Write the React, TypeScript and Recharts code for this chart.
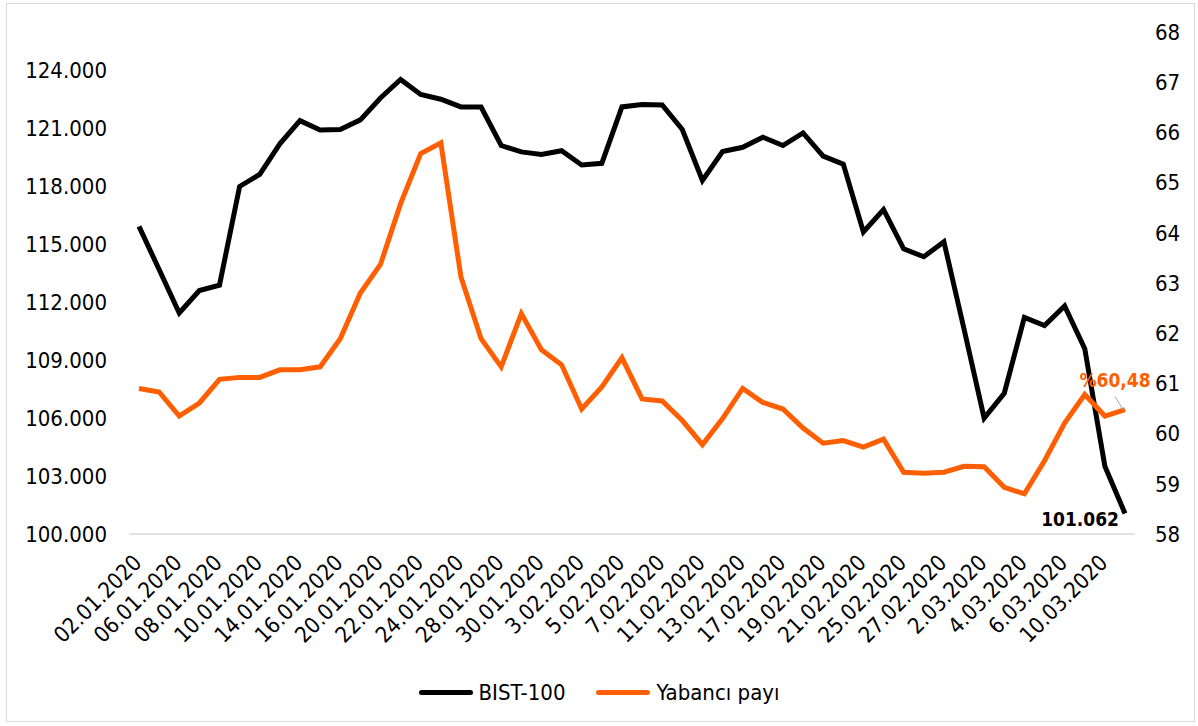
import React from 'react';
import { LineChart, Line, XAxis, YAxis, Legend, LabelList } from 'recharts';

const dates = [
  '02.01.2020', '03.01.2020', '06.01.2020', '07.01.2020', '08.01.2020', '09.01.2020', '10.01.2020',
  '13.01.2020', '14.01.2020', '15.01.2020', '16.01.2020', '17.01.2020', '20.01.2020', '21.01.2020',
  '22.01.2020', '23.01.2020', '24.01.2020', '27.01.2020', '28.01.2020', '29.01.2020', '30.01.2020',
  '31.01.2020', '3.02.2020', '4.02.2020', '5.02.2020', '6.02.2020', '7.02.2020', '10.02.2020',
  '11.02.2020', '12.02.2020', '13.02.2020', '14.02.2020', '17.02.2020', '18.02.2020', '19.02.2020',
  '20.02.2020', '21.02.2020', '24.02.2020', '25.02.2020', '26.02.2020', '27.02.2020', '28.02.2020',
  '2.03.2020', '3.03.2020', '4.03.2020', '5.03.2020', '6.03.2020', '9.03.2020', '10.03.2020', '11.03.2020',
];

const bist100 = [
  115930, 113700, 111450, 112610, 112890, 118000, 118630, 120210, 121410, 120920,
  120950, 121450, 122580, 123540, 122760, 122520, 122120, 122110, 120120, 119790,
  119660, 119850, 119110, 119200, 122120, 122240, 122220, 120950, 118310, 119810,
  120030, 120550, 120120, 120770, 119570, 119160, 115640, 116800, 114770, 114360,
  115140, 110620, 106000, 107290, 111220, 110800, 111810, 109600, 103510, 101062,
];

const yabanciPayi = [
  60.9, 60.83, 60.35, 60.61, 61.08, 61.12, 61.12, 61.27, 61.27, 61.33,
  61.89, 62.8, 63.37, 64.58, 65.58, 65.79, 63.12, 61.89, 61.33, 62.39,
  61.67, 61.37, 60.49, 60.93, 61.51, 60.69, 60.65, 60.26, 59.78, 60.3,
  60.9, 60.62, 60.49, 60.11, 59.81, 59.86, 59.73, 59.89, 59.23, 59.21,
  59.23, 59.35, 59.34, 58.93, 58.8, 59.46, 60.21, 60.78, 60.35, 60.48,
];

const leftTicks = [100000, 103000, 106000, 109000, 112000, 115000, 118000, 121000, 124000];
const rightTicks = [58, 59, 60, 61, 62, 63, 64, 65, 66, 67, 68];

const data = dates.map((d, i) => ({ date: d, bist: bist100[i], yabanci: yabanciPayi[i] }));

const FONT = '"DejaVu Sans Condensed", "DejaVu Sans", sans-serif';
const ORANGE = '#ff5f00';

const fmtThousands = (v: number) => {
  const k = Math.floor(v / 1000);
  const r = String(Math.round(v % 1000)).padStart(3, '0');
  return `${k}.${r}`;
};

const DateTick = (props: any) => {
  const { x, y, payload } = props;
  const tx = x + 4;
  const ty = y + 30;
  return (
    <text
      x={tx}
      y={ty}
      textAnchor="end"
      fontSize={22}
      fill="#000"
      fontFamily={FONT}
      transform={`rotate(-45, ${tx}, ${ty})`}
    >
      {payload.value}
    </text>
  );
};

const BistLabel = (props: any) => {
  const { x, y, index } = props;
  if (index !== data.length - 1) return null;
  return (
    <text x={x - 6} y={y + 13} textAnchor="end" fontSize={19} fontWeight="bold" fill="#000" fontFamily={FONT}>
      {fmtThousands(bist100[index])}
    </text>
  );
};

const YabanciLabel = (props: any) => {
  const { x, y, index } = props;
  if (index !== data.length - 1) return null;
  return (
    <g>
      <line x1={x - 10} y1={y - 13} x2={x - 2} y2={y} stroke="#a6a6a6" strokeWidth={1} />
      <text x={x - 10} y={y - 23} textAnchor="middle" fontSize={19} fontWeight="bold" fill={ORANGE} fontFamily={FONT}>
        {'%' + yabanciPayi[index].toFixed(2).replace('.', ',')}
      </text>
    </g>
  );
};

const LegendBox = () => (
  <div
    style={{
      display: 'flex',
      justifyContent: 'center',
      alignItems: 'center',
      height: 40,
      fontFamily: FONT,
      fontSize: 22,
      color: '#000',
    }}
  >
    <span style={{ display: 'inline-block', width: 54, height: 5, borderRadius: 3, background: '#000', marginRight: 6 }} />
    <span>BIST-100</span>
    <span style={{ display: 'inline-block', width: 54, height: 5, borderRadius: 3, background: ORANGE, marginLeft: 31, marginRight: 6 }} />
    <span>Yabancı payı</span>
  </div>
);

export default function App() {
  return (
    <div style={{ position: 'absolute', left: 0, top: 0, width: 1198, height: 726, background: '#fff', fontFamily: FONT }}>
      <div
        style={{
          position: 'absolute',
          left: 6,
          top: 3,
          width: 1189,
          height: 719,
          border: '1.5px solid #d9d9d9',
          boxSizing: 'border-box',
        }}
      />
      <LineChart width={1198} height={726} data={data} margin={{ top: 32, right: 0, bottom: 14, left: 0 }}>
        <XAxis
          dataKey="date"
          interval={1}
          tick={<DateTick />}
          tickLine={false}
          tickSize={0}
          tickMargin={0}
          height={138}
          padding={{ left: 10, right: 10 }}
          axisLine={{ stroke: '#d9d9d9', strokeWidth: 1.5 }}
        />
        <YAxis
          yAxisId="left"
          domain={[100000, 126000]}
          ticks={leftTicks}
          tickFormatter={fmtThousands}
          width={129}
          axisLine={false}
          tickLine={false}
          tickSize={0}
          tickMargin={22}
          tick={{ fontSize: 22, fill: '#000', fontFamily: FONT }}
        />
        <YAxis
          yAxisId="right"
          orientation="right"
          domain={[58, 68]}
          ticks={rightTicks}
          width={63}
          axisLine={false}
          tickLine={false}
          tickSize={0}
          tickMargin={20}
          tick={{ fontSize: 22, fill: '#000', fontFamily: FONT }}
        />
        <Legend verticalAlign="bottom" height={40} content={() => <LegendBox />} />
        <Line
          yAxisId="left"
          type="linear"
          dataKey="bist"
          name="BIST-100"
          stroke="#000"
          strokeWidth={5}
          dot={false}
          isAnimationActive={false}
        >
          <LabelList dataKey="bist" content={<BistLabel />} />
        </Line>
        <Line
          yAxisId="right"
          type="linear"
          dataKey="yabanci"
          name="Yabancı payı"
          stroke={ORANGE}
          strokeWidth={5}
          dot={false}
          isAnimationActive={false}
        >
          <LabelList dataKey="yabanci" content={<YabanciLabel />} />
        </Line>
      </LineChart>
    </div>
  );
}
